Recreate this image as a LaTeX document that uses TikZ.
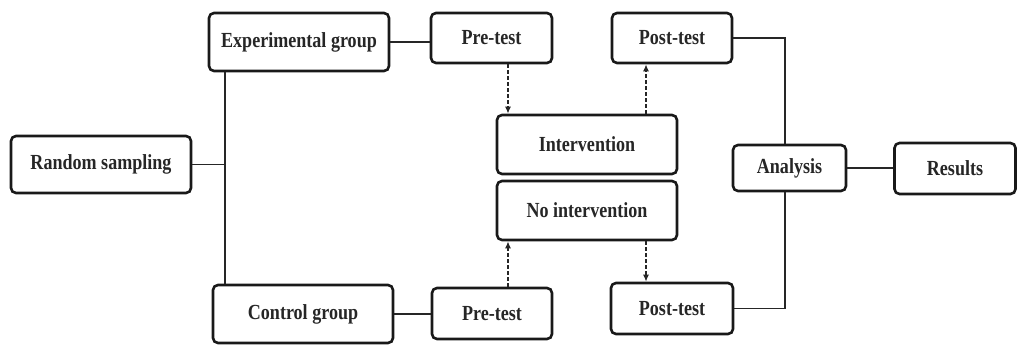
\documentclass[tikz,border=0pt]{standalone}
\usepackage{fontspec}
\setmainfont[FakeStretch=0.84]{Liberation Serif}
\usetikzlibrary{arrows.meta}
\begin{document}
\begin{tikzpicture}[x=1pt,y=-1pt,
  box/.style={draw=black!90, line width=2.6pt, rounded corners=5pt, inner sep=0pt,
    font=\fontsize{21.5}{23}\selectfont\bfseries, text=black!85},
  link/.style={line width=1.8pt, draw=black!85},
  dasharrow/.style={line width=1.7pt, draw=black!85, dash pattern=on 3.5pt off 2.5pt,
    -{Latex[length=7pt,width=6pt]}}]
\useasboundingbox (0,0) rectangle (1017,345);
\node[box, minimum width=180pt, minimum height=57pt] (rs) at (101,164.5) {Random sampling};
\node[box, minimum width=180pt, minimum height=58pt] (eg) at (299,42) {Experimental group};
\node[box, minimum width=121pt, minimum height=50pt] (pre1) at (491.5,38) {Pre-test};
\node[box, minimum width=120pt, minimum height=50pt] (post1) at (672,38) {Post-test};
\node[box, minimum width=180pt, minimum height=59pt] (int) at (587,144.5) {Intervention};
\node[box, minimum width=180pt, minimum height=59pt] (noint) at (587,210.5) {No intervention};
\node[box, minimum width=180pt, minimum height=58pt] (cg) at (303,314) {Control group};
\node[box, minimum width=120pt, minimum height=51pt] (pre2) at (492,313.5) {Pre-test};
\node[box, minimum width=122pt, minimum height=51pt] (post2) at (672,308.5) {Post-test};
\node[box, minimum width=113pt, minimum height=46pt] (ana) at (789.5,168) {Analysis};
\node[box, minimum width=121pt, minimum height=51pt] (res) at (955,168.5) {Results};
\coordinate (spine) at (225,0);
\coordinate (bus) at (785,0);
\coordinate (a1) at (508,0);
\coordinate (a2) at (646,0);
\draw[link] (rs.east) -- (rs.east -| spine);
\draw[link] (eg.south -| spine) -- (cg.north -| spine);
\draw[link] (eg.east) -- (eg.east -| pre1.west);
\draw[link] (cg.east) -- (cg.east -| pre2.west);
\draw[link] (post1.east) -- (post1.east -| bus) -- (bus |- ana.north);
\draw[link] (post2.east) -- (post2.east -| bus) -- (bus |- ana.south);
\draw[link] (ana.east) -- (ana.east -| res.west);
\draw[dasharrow] (pre1.south -| a1) -- (int.north -| a1);
\draw[dasharrow] (int.north -| a2) -- (post1.south -| a2);
\draw[dasharrow] (pre2.north -| a1) -- (noint.south -| a1);
\draw[dasharrow] (noint.south -| a2) -- (post2.north -| a2);
\end{tikzpicture}
\end{document}
